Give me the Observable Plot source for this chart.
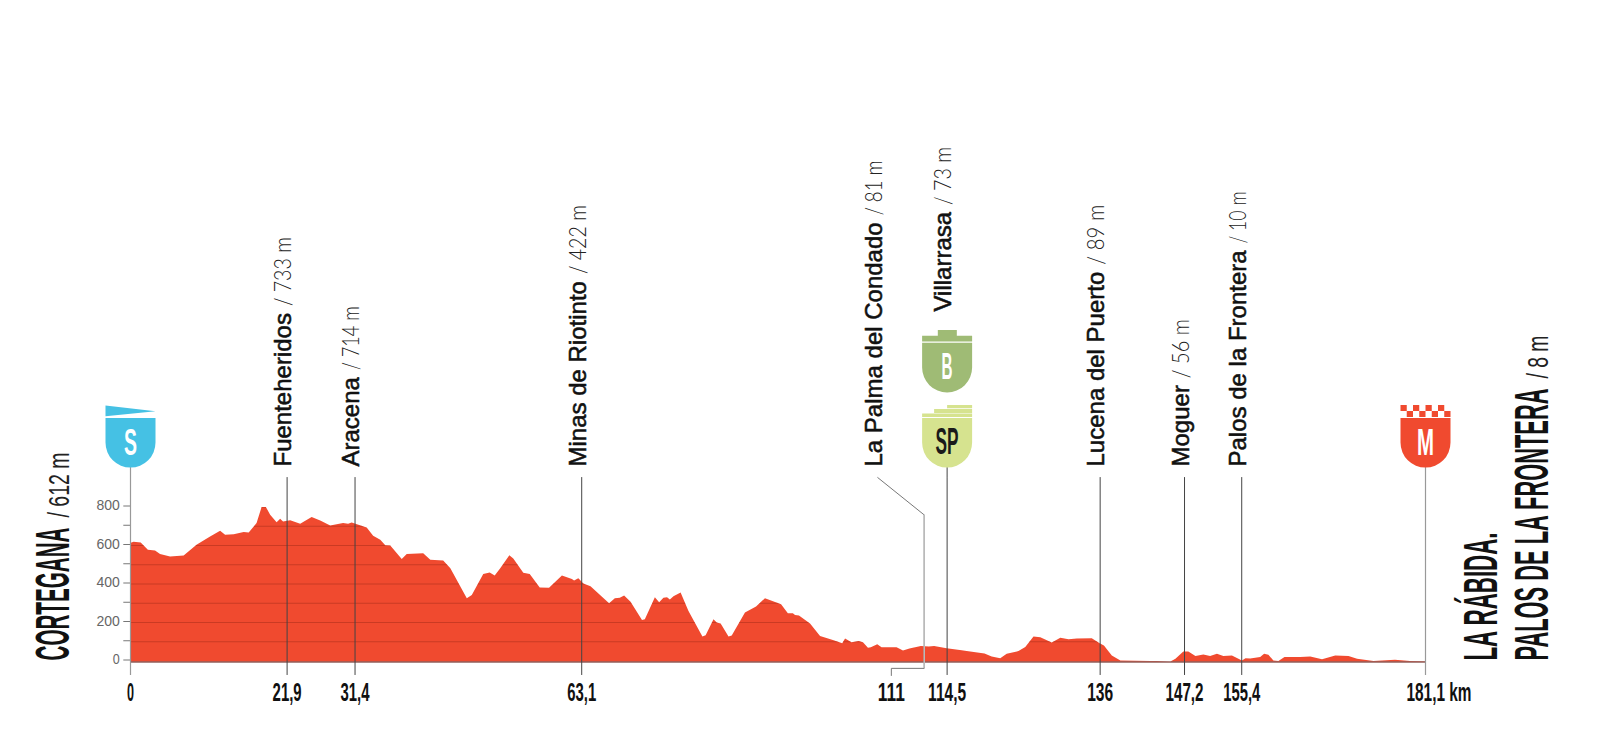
<!DOCTYPE html>
<html lang="es">
<head>
<meta charset="utf-8">
<title>Perfil de etapa: Cortegana - La Rábida</title>
<script src="https://cdn.jsdelivr.net/npm/d3@7"></script>
<script src="https://cdn.jsdelivr.net/npm/@observablehq/plot@0.6"></script>
<style>
html,body{margin:0;padding:0;background:#fff}
svg{display:block}
</style>
</head>
<body>
<div id="chart"></div>
<script>
// ---- profile data (km, metres)
const profileKm = [0,0.5,1.5,2.5,3.5,4.2,5.6,7.5,9.3,11.2,12.6,13.3,14.5,15.9,16.6,17.7,18.4,19.0,19.6,20.5,21.0,21.4,22.4,23.8,25.4,26.6,28.0,29.8,30.5,31.0,33.1,34.0,35.0,35.7,36.4,38.0,38.7,41.0,42.0,43.8,44.8,47.1,47.8,49.4,50.3,51.0,51.75,53.05,53.6,55.0,55.9,57.3,58.6,60.4,61.8,62.1,62.7,63.4,64.4,67.0,67.8,68.5,69.1,70.0,71.6,72.0,73.4,74.0,74.6,75.1,75.5,76.0,77.0,78.1,80.05,80.5,81.6,82.05,82.6,83.7,84.15,86.0,87.55,88.8,91.05,92.0,92.7,93.0,93.55,95.1,96.5,98.4,99.6,100.0,100.9,101.9,102.5,103.2,103.6,104.5,105.1,107.2,108.1,109.0,110.6,111.7,112.45,114.2,116.3,117.0,119.5,120.5,121.7,122.6,124.25,125.2,126.35,127.3,128.9,130.1,131.25,132.4,134.5,135.6,136.2,137.3,138.5,142.7,143.6,145.5,146.2,147.3,148.0,149.0,150.1,151.05,152.0,152.9,154.1,155.5,156.0,156.65,158.05,158.6,159.2,159.9,160.6,161.45,163.65,165.05,166.7,168.55,170.4,171.6,173.9,176.9,179.0,181.1];
const profileElevation = [615,622,618,580,577,558,545,551,606,649,679,658,661,673,670,719,802,803,762,724,741,727,734,715,751,732,706,720,715,722,696,653,632,604,603,532,558,563,528,525,485,329,346,455,462,447,483,552,535,461,454,384,383,447,429,421,433,405,391,303,329,331,343,310,215,220,334,308,331,334,322,339,358,263,130,137,220,203,197,130,135,255,286,329,298,251,251,241,239,197,133,111,95,119,100,106,100,71,74,90,74,74,57,68,80,78,81,69,59,54,42,26,17,40,54,76,130,126,99,123,116,119,121,95,83,31,5,2,3,0,14,52,52,28,36,29,40,28,31,5,17,16,24,40,35,5,3,24,23,26,12,31,28,14,3,9,2,1];

// ---- towns (positions as drawn on the reference's distance line)
const townNames = ["Fuenteheridos","Aracena","Minas de Riotinto","La Palma del Condado","Villarrasa","Lucena del Puerto","Moguer","Palos de la Frontera"];
const townHeights = ["/ 733 m","/ 714 m","/ 422 m","/ 81 m","/ 73 m","/ 89 m","/ 56 m","/ 10 m"];
const townKm = [21.9,31.4,63.1,104.5,114.2,135.6,147.4,155.4];
const townLift = [0,0,0,0,155,0,0,0];

// ---- km axis
const tickKm = [0,21.9,31.4,63.1,106.4,114.2,135.6,147.4,155.4];
const tickLabels = ["0","21,9","31,4","63,1","111","114,5","136","147,2","155,4"];
const ruleKm = [21.9,31.4,63.1,114.2,135.6,147.4,155.4];
const endKm = [0,181.1];

// ---- leader for km 111
const leaderKm = [104.5,111,111,106.4,106.4];
const leaderElevation = [958,764,-33,-33,-70];

// ---- elevation axis
const elevationTicks = [0,100,200,300,400,500,600,700,800];

// ---- styles
const red = "#f04a2f", blue = "#45c1e4", green = "#9fbb75", lime = "#d6e38f", ink = "#111";
const narrow = "'Liberation Sans Narrow','Liberation Sans',sans-serif";
const sans = "'Liberation Sans',Arial,sans-serif";
const light = "Lato,'Liberation Sans',sans-serif";
const gridThickness = 5.2; // metres, about one pixel

// target lengths of condensed lettering, in pixels
const fitted = new Map([
  ["CORTEGANA",133],["/ 612 m",65],["LA RÁBIDA.",128],["PALOS DE LA FRONTERA",272],["/ 8 m",43],
  ["S",13],["B",11],["SP",23],["M",17],
  ["0",7],["21,9",29],["31,4",29],["63,1",29],["111",27],["114,5",38],["136",26],["147,2",38],["155,4",37],["181,1 km",65],
  ["/ 733 m",69],["/ 714 m",64],["/ 422 m",69],["/ 81 m",55],["/ 73 m",58],["/ 89 m",60],["/ 56 m",59],["/ 10 m",52]
]);

const points = profileKm.map((km,i)=>({km, e:profileElevation[i]}));
const measure = document.createElement("canvas").getContext("2d");
measure.font = `24px ${sans}`;

// the profile's own vertices plus the places where its segments meet a grid band,
// so that the band stays inside the red area
function bandPoints(level){
  const out = [];
  const edges = [level, level + gridThickness];
  points.forEach((p,i)=>{
    out.push(p);
    const q = points[i+1];
    if(!q) return;
    const hits = edges.filter(v=>(p.e-v)*(q.e-v)<0)
      .map(v=>({km:p.km+(v-p.e)/(q.e-p.e)*(q.km-p.km),e:v}))
      .sort((a,b)=>a.km-b.km);
    out.push(...hits);
  });
  return out;
}

// shield symbols: origin is the tip of the shield
function shield(ctx){
  ctx.moveTo(-25,-49.7); ctx.lineTo(25,-49.7); ctx.lineTo(25,-25);
  ctx.arc(0,-25,25,0,Math.PI); ctx.closePath();
}
const rect = (ctx,x0,y0,x1,y1)=>{ctx.moveTo(x0,y0);ctx.lineTo(x1,y0);ctx.lineTo(x1,y1);ctx.lineTo(x0,y1);ctx.closePath();};
const symbolStart = {draw(ctx){shield(ctx);ctx.moveTo(-25,-62);ctx.lineTo(25,-56.3);ctx.lineTo(-25,-51.3);ctx.closePath();}};
const symbolBonus = {draw(ctx){shield(ctx);rect(ctx,-25,-56.7,25,-51);rect(ctx,-9.3,-62.4,9.7,-56.7);}};
const symbolSprint = {draw(ctx){shield(ctx);rect(ctx,-25,-54,25,-50.7);rect(ctx,-13,-58.7,25,-54.7);rect(ctx,0,-62.7,25,-59.3);}};
const symbolFinish = {draw(ctx){shield(ctx);
  for(let i=0;i<8;i++){const x=-25+i*6.25; i%2?rect(ctx,x,-56.7,x+6.25,-50.7):rect(ctx,x,-62.7,x+6.25,-56.7);}
}};

const marker = (km,e,symbol,fill,letter,color,letterDy,size)=>[
  Plot.dot([0],{x:()=>km,y:()=>e,symbol,fill,stroke:"none",r:10}),
  Plot.text([letter],{x:()=>km,y:()=>e,text:d=>d,dy:letterDy,lineAnchor:"bottom",fill:color,fontFamily:narrow,fontWeight:700,fontSize:size})
];

const townMarks = townNames.flatMap((name,i)=>{
  const nameLength = measure.measureText(name).width;
  return [
    Plot.text([name],{x:()=>townKm[i],y:()=>0,text:d=>d,rotate:-90,textAnchor:"start",lineAnchor:"bottom",
      dx:4.2,dy:-195.5-townLift[i],fontFamily:sans,fontSize:24,fill:ink,stroke:ink,strokeWidth:0.55}),
    Plot.text([townHeights[i]],{x:()=>townKm[i],y:()=>0,text:d=>d,rotate:-90,textAnchor:"start",lineAnchor:"bottom",
      dx:4.2,dy:-195.5-townLift[i]-nameLength-7,fontFamily:light,fontWeight:300,fontSize:24,fill:"#222"})
  ];
});

const plot = Plot.plot({
  width:1600,height:750,marginTop:0,marginBottom:0,marginLeft:130,marginRight:175,
  x:{domain:[0,181.1],range:[130,1425],axis:null},
  y:{domain:[-459.7,3436.4],range:[750,0],axis:null},
  marks:[
    Plot.areaY(points,{x:"km",y1:0,y2:"e",fill:red}),
    ...elevationTicks.slice(1).map(level=>Plot.areaY(bandPoints(level),{x:"km",y1:()=>level,
      y2:d=>Math.max(level,Math.min(d.e,level+gridThickness)),fill:"#7a1a0c",fillOpacity:0.32})),
    Plot.ruleY([0],{x1:0,x2:181.1,stroke:"#5a0f08",strokeWidth:1.2}),
    Plot.axisY({ticks:elevationTicks,anchor:"left",tickSize:6.7,tickPadding:4,stroke:"#777",
      tickFormat:d=>d%200?"":d,fontFamily:sans,fontSize:14,fill:"#666",dy:-2,label:null}),
    Plot.ruleX(ruleKm,{y1:-70,y2:958,stroke:"#444",strokeWidth:1}),
    Plot.ruleX(endKm,{y1:-70,y2:1010,stroke:"#999",strokeWidth:1.2}),
    Plot.ruleX([114.2],{y1:958,y2:1010,stroke:"#444",strokeWidth:1}),
    Plot.line(leaderKm.map((km,i)=>({km,e:leaderElevation[i]})),{x:"km",y:"e",stroke:"#777",strokeWidth:1}),
    Plot.ruleX([111],{y1:-33,y2:764,stroke:"#bbb",strokeWidth:1.5}),
    ...marker(0,1010,symbolStart,blue,"S","#fff",-13,37),
    ...marker(114.2,1400,symbolBonus,green,"B","#fff",-14,37),
    ...marker(114.2,1010,symbolSprint,lime,"SP","#1a1a1a",-14,37),
    ...marker(181.1,1010,symbolFinish,red,"M","#fff",-13,37),
    ...townMarks,
    Plot.text(tickLabels,{x:(d,i)=>tickKm[i],y:()=>0,text:d=>d,dy:38.5,lineAnchor:"bottom",textAnchor:"middle",
      fontFamily:narrow,fontSize:25,fontWeight:700,fill:ink}),
    Plot.text(["181,1 km"],{x:()=>181.1,y:()=>0,text:d=>d,dx:-19,dy:38.5,lineAnchor:"bottom",textAnchor:"start",
      fontFamily:narrow,fontSize:25,fontWeight:700,fill:ink}),
    Plot.text(["CORTEGANA"],{x:()=>0,y:()=>0,text:d=>d,dx:-61.5,dy:-1.5,rotate:-90,textAnchor:"start",lineAnchor:"bottom",
      fontFamily:narrow,fontWeight:700,fontSize:48,fill:ink}),
    Plot.text(["/ 612 m"],{x:()=>0,y:()=>0,text:d=>d,dx:-61.5,dy:-144.5,rotate:-90,textAnchor:"start",lineAnchor:"bottom",
      fontFamily:narrow,fontSize:29,fill:"#222"}),
    Plot.text(["LA RÁBIDA."],{x:()=>181.1,y:()=>0,text:d=>d,dx:71.5,dy:-1.5,rotate:-90,textAnchor:"start",lineAnchor:"bottom",
      fontFamily:narrow,fontWeight:700,fontSize:48,fill:ink}),
    Plot.text(["PALOS DE LA FRONTERA"],{x:()=>181.1,y:()=>0,text:d=>d,dx:122,dy:-1.5,rotate:-90,textAnchor:"start",lineAnchor:"bottom",
      fontFamily:narrow,fontWeight:700,fontSize:48,fill:ink}),
    Plot.text(["/ 8 m"],{x:()=>181.1,y:()=>0,text:d=>d,dx:122,dy:-283.5,rotate:-90,textAnchor:"start",lineAnchor:"bottom",
      fontFamily:narrow,fontSize:29,fill:"#222"})
  ]
});
document.getElementById("chart").append(plot);

// squeeze the condensed lettering to its measured length
d3.select(plot).selectAll("text").each(function(){
  const target = fitted.get(this.textContent);
  if(target){
    this.setAttribute("textLength",target);
    this.setAttribute("lengthAdjust","spacingAndGlyphs");
  }
});
</script>
</body>
</html>
